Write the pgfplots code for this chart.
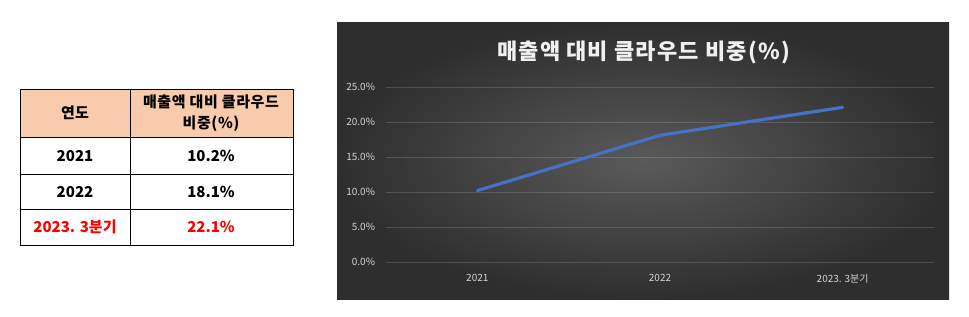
\documentclass[border=0pt]{standalone}
\usepackage{fontspec}
\setmainfont{Noto Sans CJK KR}
\usepackage{pgfplots}
\pgfplotsset{compat=1.18}
\definecolor{peach}{HTML}{F8CBAD}
\definecolor{lineblue}{HTML}{4472C4}
\definecolor{ticklab}{HTML}{D4D4D4}
\definecolor{redtxt}{HTML}{FF0000}
\definecolor{bgin}{HTML}{5A5A5A}
\definecolor{bgout}{HTML}{2E2E2E}
\begin{document}
\begin{tikzpicture}[x=1pt,y=1pt]
\fill[white] (0,0) rectangle (969,-316);
\useasboundingbox (0,0) rectangle (969,-316);
% table
\fill[peach] (20,-89) rectangle (293,-137);
\draw[black, line width=0.9pt] (20,-89) rectangle (293,-245);
\draw[black, line width=0.9pt] (130,-89) -- (130,-245);
\draw[black, line width=0.9pt] (20,-137) -- (293,-137);
\draw[black, line width=0.9pt] (20,-174) -- (293,-174);
\draw[black, line width=0.9pt] (20,-209) -- (293,-209);
\tikzset{tb/.style={font=\bfseries\fontsize{15}{21}\selectfont, inner sep=0pt, align=center}}
\node[tb] at (75,-113) {연도};
\node[tb] at (211,-113) {\addfontfeature{LetterSpace=4}매출액 대비 클라우드\\\addfontfeature{LetterSpace=4}비중(\%)};
\node[tb] at (75,-156) {2021};
\node[tb] at (211,-156) {10.2\%};
\node[tb] at (75,-192) {2022};
\node[tb] at (211,-192) {18.1\%};
\node[tb, text=redtxt] at (75,-227) {2023. 3분기};
\node[tb, text=redtxt] at (211,-227) {22.1\%};
% chart background
\shade[inner color=bgin, outer color=bgout] (337,-22) rectangle (949,-299);
\node[font=\bfseries\fontsize{22}{26}\selectfont, text=white!94!black, inner sep=0pt] at (643.5,-52) {\addfontfeature{LetterSpace=5.5}매출액 대비 클라우드 비중(\%)};
\begin{axis}[
  at={(386pt,-262pt)}, anchor=south west,
  width=548pt, height=175pt, scale only axis,
  xmin=-0.5, xmax=2.5, ymin=0, ymax=25,
  ytick={0,5,10,15,20,25},
  xtick={0,1,2},
  xticklabels={2021,2022,{\raisebox{-2.5pt}{2023. 3분기}}},
  axis line style={draw=none},
  major tick length=0pt,
  ymajorgrids,
  grid style={white, opacity=0.14, line width=0.9pt},
  /pgf/number format/assume math mode=true,
  tick label style={text=ticklab, font=\fontsize{10}{12}\selectfont},
  yticklabel style={xshift=-7.5pt, /pgf/number format/.cd, fixed, fixed zerofill, precision=1},
  yticklabel={\pgfmathprintnumber{\tick}\%},
  xticklabel style={yshift=-8.5pt},
]
\addplot[lineblue, line width=3.2pt, line cap=round] coordinates {(0,10.2) (1,18.1) (2,22.1)};
\end{axis}
\end{tikzpicture}
\end{document}
